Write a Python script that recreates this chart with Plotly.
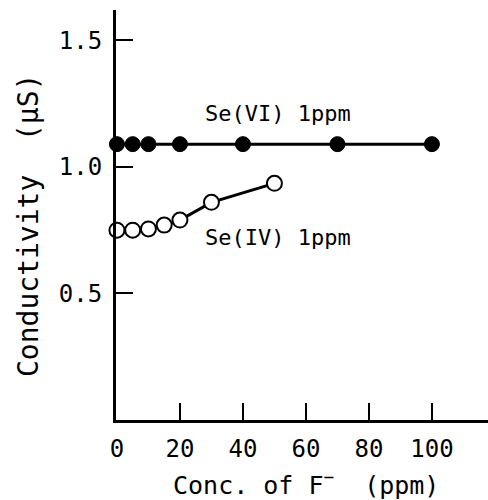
import plotly.graph_objects as go

# Data
se6_x = [0, 5, 10, 20, 40, 70, 100]
se6_y = [1.09, 1.09, 1.09, 1.09, 1.09, 1.09, 1.09]
se4_x = [0, 5, 10, 15, 20, 30, 50]
se4_y = [0.75, 0.75, 0.755, 0.77, 0.79, 0.86, 0.935]

x_ticks = [0, 20, 40, 60, 80, 100]
x_ticklabels = ["0", "20", "40", "60", "80", "100"]
y_ticks = [0.5, 1.0, 1.5]
y_ticklabels = ["0.5", "1.0", "1.5"]

FONT = "DejaVu Sans Mono"

fig = go.Figure()
fig.add_trace(go.Scatter(
    x=se6_x, y=se6_y, mode="lines+markers",
    line=dict(color="black", width=3),
    marker=dict(size=15, color="black", line=dict(color="black", width=1)),
    showlegend=False, cliponaxis=False,
))
fig.add_trace(go.Scatter(
    x=se4_x, y=se4_y, mode="lines+markers",
    line=dict(color="black", width=3),
    marker=dict(size=15, color="white", line=dict(color="black", width=2)),
    showlegend=False, cliponaxis=False,
))

fig.update_layout(
    width=488, height=500,
    margin=dict(l=116, r=0, t=10, b=80),
    paper_bgcolor="white", plot_bgcolor="white",
    font=dict(family=FONT, color="black"),
    xaxis=dict(
        range=[-0.3, 117.8], showgrid=False, zeroline=False,
        showline=True, linecolor="black", linewidth=3,
        ticks="inside", ticklen=17, tickwidth=2, tickcolor="black",
        tickvals=x_ticks, ticktext=x_ticklabels,
        tickfont=dict(family=FONT, size=24, color="black"),
        ticklabelstandoff=5,
    ),
    yaxis=dict(
        range=[0, 1.62], showgrid=False, zeroline=False,
        showline=True, linecolor="black", linewidth=3,
        ticks="inside", ticklen=17, tickwidth=2, tickcolor="black",
        tickvals=y_ticks, ticktext=y_ticklabels,
        tickfont=dict(family=FONT, size=24, color="black"),
        ticklabelstandoff=6,
    ),
)

fig.add_annotation(
    x=27.3, y=1.21, xref="x", yref="y", xanchor="left", yanchor="middle",
    text="Se(VI) 1ppm", showarrow=False,
    font=dict(family=FONT, size=22, color="black"),
)
fig.add_annotation(
    x=27.3, y=0.72, xref="x", yref="y", xanchor="left", yanchor="middle",
    text="Se(IV) 1ppm", showarrow=False,
    font=dict(family=FONT, size=22, color="black"),
)
fig.add_annotation(
    x=-0.2366, y=0.4756, xref="paper", yref="paper",
    xanchor="center", yanchor="middle", textangle=-90,
    text="Conductivity\u00a0\u00a0(\u03bcS)", showarrow=False,
    font=dict(family=FONT, size=28, color="black"),
)
fig.add_annotation(
    x=0.511, y=-0.156, xref="paper", yref="paper",
    xanchor="center", yanchor="middle",
    text="Conc. of F<sup>\u2212</sup>\u00a0\u00a0(ppm)", showarrow=False,
    font=dict(family=FONT, size=25, color="black"),
)

fig.write_html("out.html")
